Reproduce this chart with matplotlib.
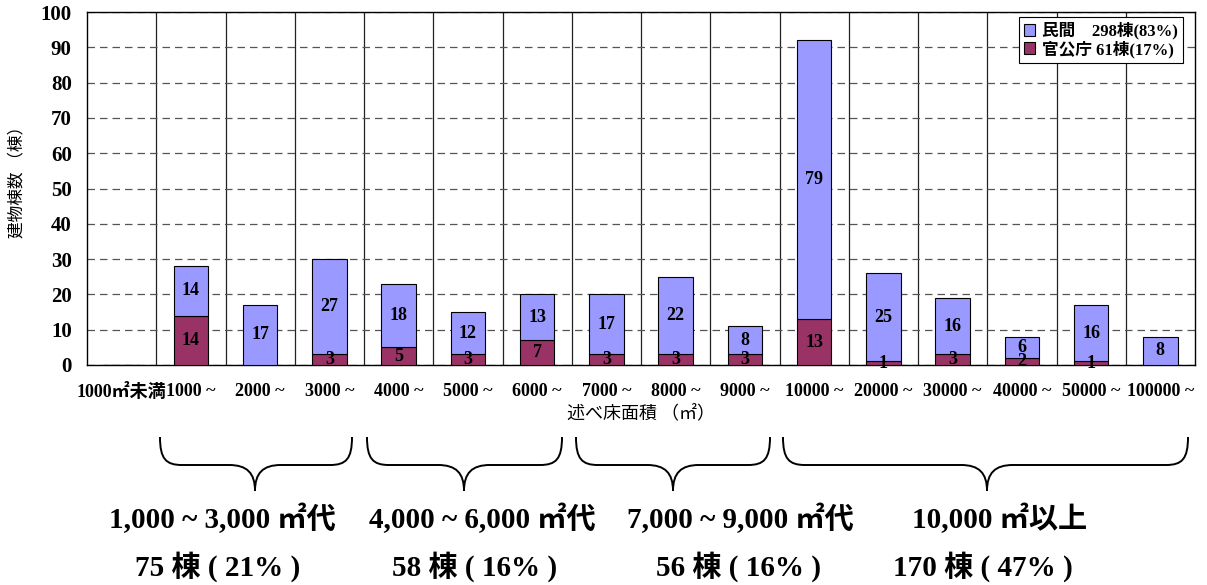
import matplotlib
matplotlib.use('Agg')
import matplotlib.pyplot as plt
import numpy as np
from matplotlib.path import Path
from matplotlib.patches import PathPatch

plt.rcParams['font.family'] = ['Liberation Serif', 'Noto Sans CJK JP', 'DejaVu Sans']

categories = ['1000㎡未満', '1000 ~', '2000 ~', '3000 ~', '4000 ~', '5000 ~', '6000 ~',
              '7000 ~', '8000 ~', '9000 ~', '10000 ~', '20000 ~', '30000 ~', '40000 ~',
              '50000 ~', '100000 ~']
public = [0, 14, 0, 3, 5, 3, 7, 3, 3, 3, 13, 1, 3, 2, 1, 0]
private = [0, 14, 17, 27, 18, 12, 13, 17, 22, 8, 79, 25, 16, 6, 16, 8]
legend_labels = ['民間　298棟(83%)', '官公庁 61棟(17%)']

group_titles = ['1,000 ~ 3,000 ㎡代', '4,000 ~ 6,000 ㎡代', '7,000 ~ 9,000 ㎡代', '10,000 ㎡以上']
group_counts = ['75 棟 ( 21% )', '58 棟 ( 16% )', '56 棟 ( 16% )', '170 棟 ( 47% )']

W, H = 1207, 585
fig = plt.figure(figsize=(W / 100, H / 100), dpi=100)
ax = fig.add_axes([87 / W, 1 - 365 / H, (1195 - 87) / W, (365 - 12) / H])

x = np.arange(len(categories))
c_priv = '#9999FF'
c_pub = '#993366'
ax.bar(x, public, width=0.5, color=c_pub, edgecolor='black', linewidth=0.8, zorder=3)
ax.bar(x, private, width=0.5, bottom=public, color=c_priv, edgecolor='black', linewidth=0.8, zorder=3)

for i in x:
    if public[i] > 0:
        ax.text(i, public[i] / 2, str(public[i]), ha='center', va='center',
                fontsize=13, fontweight='bold', zorder=4)
    if private[i] > 0:
        ax.text(i, public[i] + private[i] / 2, str(private[i]), ha='center', va='center',
                fontsize=13, fontweight='bold', zorder=4)

ax.set_xlim(-0.5, len(categories) - 0.5)
ax.set_ylim(0, 100)
ax.set_yticks(range(0, 101, 10))
ax.set_xticks(x)
ax.set_xticklabels(categories, fontsize=13, fontweight='bold')
ax.tick_params(axis='x', length=0, pad=13)
ax.tick_params(axis='y', length=0, pad=11)
for lab in ax.get_yticklabels():
    lab.set_fontsize(15)
    lab.set_fontweight('bold')
ax.yaxis.grid(True, linestyle=(0, (6, 4)), color='#555555', linewidth=0.9, zorder=0)
for b in np.arange(0.5, len(categories) - 0.5, 1):
    ax.axvline(b, color='#222222', linewidth=0.9, zorder=1)
for s in ax.spines.values():
    s.set_linewidth(1.0)

ax.set_ylabel('建物棟数 （棟）', fontsize=12, family=['Noto Sans CJK JP'])
ax.yaxis.set_label_coords(-0.056, 0.53)
ax.set_xlabel('述べ床面積 （㎡）', fontsize=13, family=['Noto Sans CJK JP'], labelpad=2)

h1 = plt.Rectangle((0, 0), 1, 1, facecolor=c_priv, edgecolor='black', linewidth=0.8)
h2 = plt.Rectangle((0, 0), 1, 1, facecolor=c_pub, edgecolor='black', linewidth=0.8)
leg = ax.legend([h1, h2], legend_labels, loc='upper right', bbox_to_anchor=(0.989, 0.986),
                fancybox=False, edgecolor='black', framealpha=1, handlelength=0.7,
                handleheight=0.7, handletextpad=0.4, borderpad=0.3, labelspacing=0.05,
                borderaxespad=0,
                prop={'size': 12, 'weight': 'bold',
                      'family': ['Liberation Serif', 'Noto Sans CJK JP']})
leg.get_frame().set_linewidth(0.8)

# overlay in pixel coordinates for braces and group captions
ov = fig.add_axes([0, 0, 1, 1])
ov.set_xlim(0, W)
ov.set_ylim(H, 0)
ov.axis('off')
ov.patch.set_alpha(0)

braces = [(160, 352, 255), (367, 562, 464), (576, 770, 673), (783, 1188, 987)]
yt, ym, yb = 437, 465, 491
for xl, xr, xt in braces:
    verts = [(xl, yt), (xl, ym - 6), (xl + 6, ym), (xl + 22, ym),
             (xt - 26, ym),
             (xt - 8, ym), (xt, ym + 8), (xt, yb),
             (xt, ym + 8), (xt + 8, ym), (xt + 26, ym),
             (xr - 22, ym),
             (xr - 6, ym), (xr, ym - 6), (xr, yt)]
    codes = [Path.MOVETO, Path.CURVE4, Path.CURVE4, Path.CURVE4,
             Path.LINETO,
             Path.CURVE4, Path.CURVE4, Path.CURVE4,
             Path.CURVE4, Path.CURVE4, Path.CURVE4,
             Path.LINETO,
             Path.CURVE4, Path.CURVE4, Path.CURVE4]
    ov.add_patch(PathPatch(Path(verts, codes), facecolor='none', edgecolor='black', linewidth=1.4))

title_x = [222, 482, 740, 1000]
count_x = [218, 475, 738, 983]
for tx, cx, t, c in zip(title_x, count_x, group_titles, group_counts):
    ov.text(tx, 519, t, ha='center', va='center', fontsize=21, fontweight='bold')
    ov.text(cx, 567, c, ha='center', va='center', fontsize=21, fontweight='bold')

fig.savefig('out.png', dpi=100)
